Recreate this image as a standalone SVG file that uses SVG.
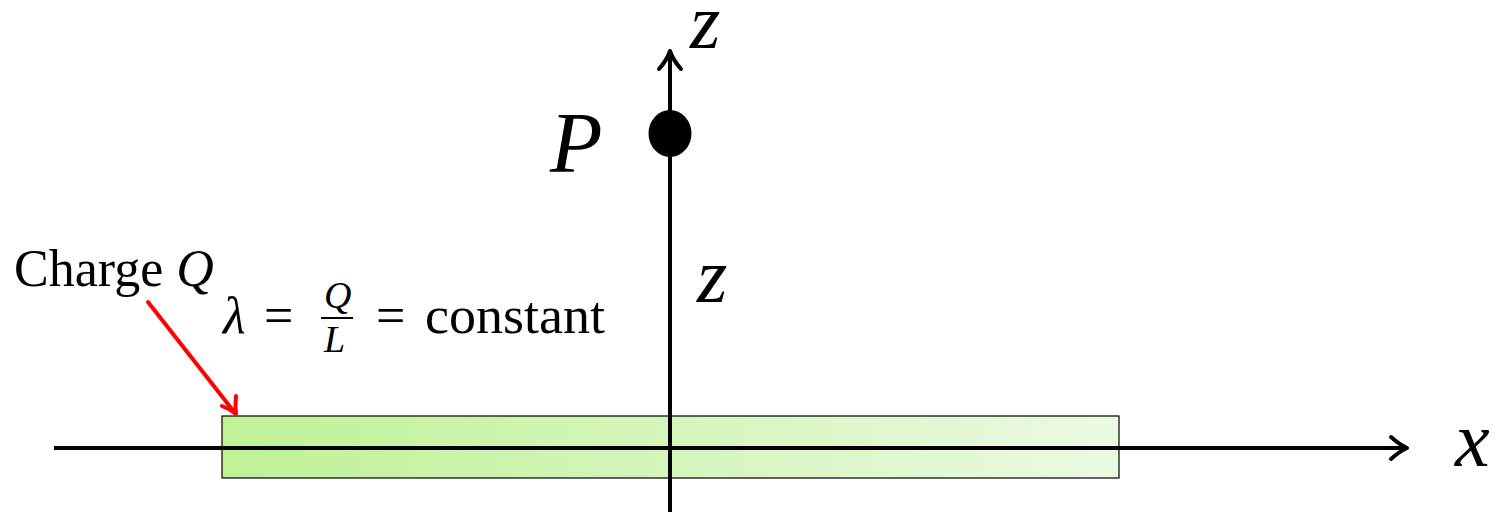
<svg xmlns="http://www.w3.org/2000/svg" width="1499" height="512" viewBox="0 0 1499 512">
<style>
.math{font-family:"Liberation Serif","DejaVu Serif",serif;font-style:italic;fill:#000}
.rm{font-family:"Liberation Serif","DejaVu Serif",serif;fill:#000}
.axis{stroke:#000;stroke-width:4;fill:none}
.head{stroke:#000;stroke-width:4;fill:none;stroke-linecap:round;stroke-linejoin:round}
.red{stroke:#ff0000;stroke-width:4;fill:none;stroke-linecap:round;stroke-linejoin:round}
</style>
<defs>
<linearGradient id="rodGrad" x1="0" y1="0" x2="1" y2="0">
<stop offset="0" stop-color="#bff196"/>
<stop offset="1" stop-color="#ebf9e2"/>
</linearGradient>
</defs>
<g id="rod">
<rect x="222" y="416" width="897" height="62" fill="url(#rodGrad)" stroke="#000" stroke-width="1.2"/>
</g>
<g id="connectors">
<line class="axis" x1="54" y1="448" x2="1406" y2="448"/>
<path class="head" d="M1391,437 Q1400,445 1407,448 Q1400,451 1391,459"/>
<line class="axis" x1="670" y1="512" x2="670" y2="52"/>
<path class="head" d="M659,69 Q667,60 670,51 Q673,60 681,69"/>
<line class="red" x1="148" y1="302" x2="235" y2="413"/>
<path class="red" d="M222,406 Q230,409 236,414 Q235,406 236,396"/>
</g>
<g id="point-P">
<ellipse cx="670" cy="133.5" rx="21.5" ry="23.5" fill="#000"/>
<text class="math" x="550" y="172" font-size="86">P</text>
</g>
<g id="label-z-axis">
<text class="math" x="690" y="48" font-size="78">z</text>
</g>
<g id="label-z-distance">
<text class="math" x="697" y="302" font-size="78">z</text>
</g>
<g id="label-x-axis">
<text class="math" x="1455" y="466" font-size="78">x</text>
</g>
<g id="label-charge">
<text class="rm" x="14" y="286" font-size="52">Charge <tspan font-style="italic">Q</tspan></text>
</g>
<g id="label-lambda">
<text class="math" x="223" y="333" font-size="52">λ</text>
<text class="rm" x="264" y="333" font-size="52">=</text>
<text class="math" x="324" y="308" font-size="38">Q</text>
<line x1="321" y1="318" x2="353" y2="318" stroke="#000" stroke-width="2"/>
<text class="math" x="324" y="352" font-size="38">L</text>
<text class="rm" x="376" y="333" font-size="52">=</text>
<text class="rm" x="425" y="333" font-size="52" textLength="180" lengthAdjust="spacingAndGlyphs">constant</text>
</g>
</svg>
